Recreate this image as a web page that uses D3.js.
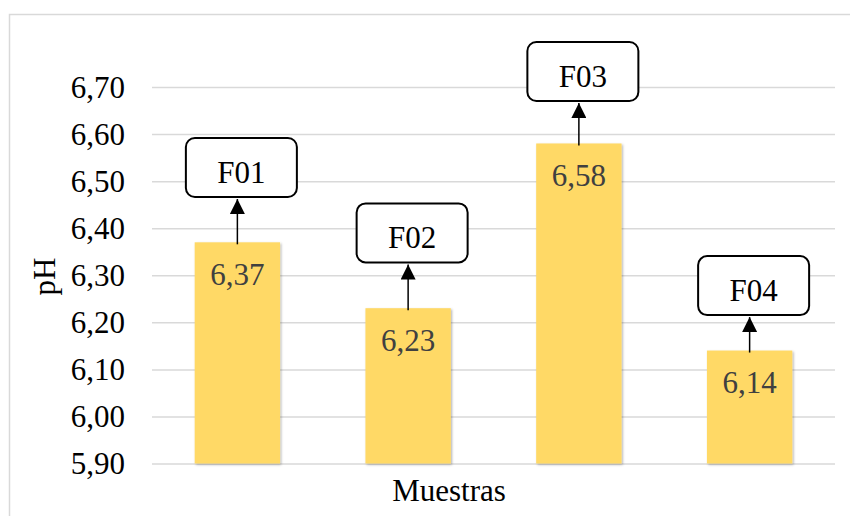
<!DOCTYPE html>
<html>
<head>
<meta charset="utf-8">
<script src="https://cdn.jsdelivr.net/npm/d3@7"></script>
<style>
  html, body { margin: 0; padding: 0; background: #fff; }
  svg { display: block; }
  text { font-family: "Liberation Serif", "Times New Roman", serif; }
</style>
</head>
<body>
<svg id="chart" width="850" height="516"></svg>
<script>
// pH per sample
const samples = ["F01", "F02", "F03", "F04"];
const phValues = [6.37, 6.23, 6.58, 6.14];
// y-axis ticks
const tickValues = [5.90, 6.00, 6.10, 6.20, 6.30, 6.40, 6.50, 6.60, 6.70];
// callout centres, in pH units
const calloutLevels = [6.529, 6.390, 6.733, 6.278];

const W = 850, H = 516;
const margin = { top: 87, right: 15, bottom: 52.5, left: 152 };

const svg = d3.select("#chart");

const locale = d3.formatLocale({ decimal: ",", thousands: ".", grouping: [3], currency: ["", ""] });
const fmt = locale.format(".2f");

const x = d3.scaleBand()
  .domain(samples)
  .range([margin.left, W - margin.right])
  .paddingInner(0.5)
  .paddingOuter(0.25);

const y = d3.scaleLinear()
  .domain([5.9, 6.7])
  .range([H - margin.bottom, margin.top]);

// chart frame
svg.append("rect")
  .attr("x", 9.5).attr("y", 14.5)
  .attr("width", 900).attr("height", 600)
  .attr("fill", "#fff")
  .attr("stroke", "#d9d9d9")
  .attr("stroke-width", 1.5);

// defs: bar shadow and arrow head
const defs = svg.append("defs");
const shadow = defs.append("filter").attr("id", "barShadow")
  .attr("x", "-10%").attr("y", "-10%").attr("width", "125%").attr("height", "125%");
shadow.append("feDropShadow")
  .attr("dx", 1.2).attr("dy", 1.2).attr("stdDeviation", 1.2)
  .attr("flood-color", "#000").attr("flood-opacity", 0.3);

defs.append("marker")
  .attr("id", "arrowHead")
  .attr("viewBox", "0 0 10 10")
  .attr("refX", 10).attr("refY", 5)
  .attr("markerUnits", "userSpaceOnUse")
  .attr("markerWidth", 16).attr("markerHeight", 15)
  .attr("orient", "auto")
  .append("path")
  .attr("d", "M0,0 L10,5 L0,10 Z")
  .attr("fill", "#000");

// y axis with gridlines
const yAxis = d3.axisLeft(y)
  .tickValues(tickValues)
  .tickSize(-(W - margin.right - margin.left))
  .tickPadding(27)
  .tickFormat(fmt);

const gy = svg.append("g")
  .attr("transform", `translate(${margin.left},0)`)
  .call(yAxis);
gy.select(".domain").remove();
gy.selectAll(".tick line")
  .attr("stroke", "#d9d9d9")
  .attr("stroke-width", 1.5);
gy.selectAll(".tick text")
  .attr("fill", "#000")
  .attr("font-family", "'Liberation Serif', 'Times New Roman', serif")
  .attr("font-size", 31)
  .attr("dy", "0.33em");

// bars
svg.append("g")
  .selectAll("rect")
  .data(samples)
  .join("rect")
  .attr("x", d => x(d))
  .attr("y", (d, i) => y(phValues[i]))
  .attr("width", x.bandwidth())
  .attr("height", (d, i) => y(5.9) - y(phValues[i]))
  .attr("fill", "#ffd966")
  .attr("filter", "url(#barShadow)");

// value labels inside the bars
svg.append("g")
  .selectAll("text")
  .data(samples)
  .join("text")
  .attr("x", d => x(d) + x.bandwidth() / 2)
  .attr("y", (d, i) => y(phValues[i]) + 42.5)
  .attr("text-anchor", "middle")
  .attr("font-size", 31)
  .attr("fill", "#404040")
  .text((d, i) => fmt(phValues[i]));

// callouts: arrow from bar top to a rounded label box
const boxW = 111, boxH = 59;
const callouts = svg.append("g")
  .selectAll("g")
  .data(samples)
  .join("g");

callouts.append("line")
  .attr("x1", d => x(d) + x.bandwidth() / 2)
  .attr("x2", d => x(d) + x.bandwidth() / 2)
  .attr("y1", (d, i) => y(phValues[i]) + 2)
  .attr("y2", (d, i) => y(calloutLevels[i]) + boxH / 2 + 2)
  .attr("stroke", "#000")
  .attr("stroke-width", 1.5)
  .attr("marker-end", "url(#arrowHead)");

callouts.append("rect")
  .attr("x", d => x(d) + x.bandwidth() / 2 - boxW / 2 + 4)
  .attr("y", (d, i) => y(calloutLevels[i]) - boxH / 2)
  .attr("width", boxW)
  .attr("height", boxH)
  .attr("rx", 9).attr("ry", 9)
  .attr("fill", "#fff")
  .attr("stroke", "#000")
  .attr("stroke-width", 2);

callouts.append("text")
  .attr("x", d => x(d) + x.bandwidth() / 2 + 4)
  .attr("y", (d, i) => y(calloutLevels[i]) + 15.5)
  .attr("text-anchor", "middle")
  .attr("font-size", 31)
  .attr("fill", "#000")
  .text(d => d);

// axis titles
svg.append("text")
  .attr("x", 449)
  .attr("y", 501)
  .attr("text-anchor", "middle")
  .attr("font-size", 31)
  .attr("fill", "#000")
  .text("Muestras");

svg.append("text")
  .attr("transform", "translate(55,276.5) rotate(-90)")
  .attr("text-anchor", "middle")
  .attr("font-size", 31)
  .attr("fill", "#000")
  .text("pH");
</script>
</body>
</html>
